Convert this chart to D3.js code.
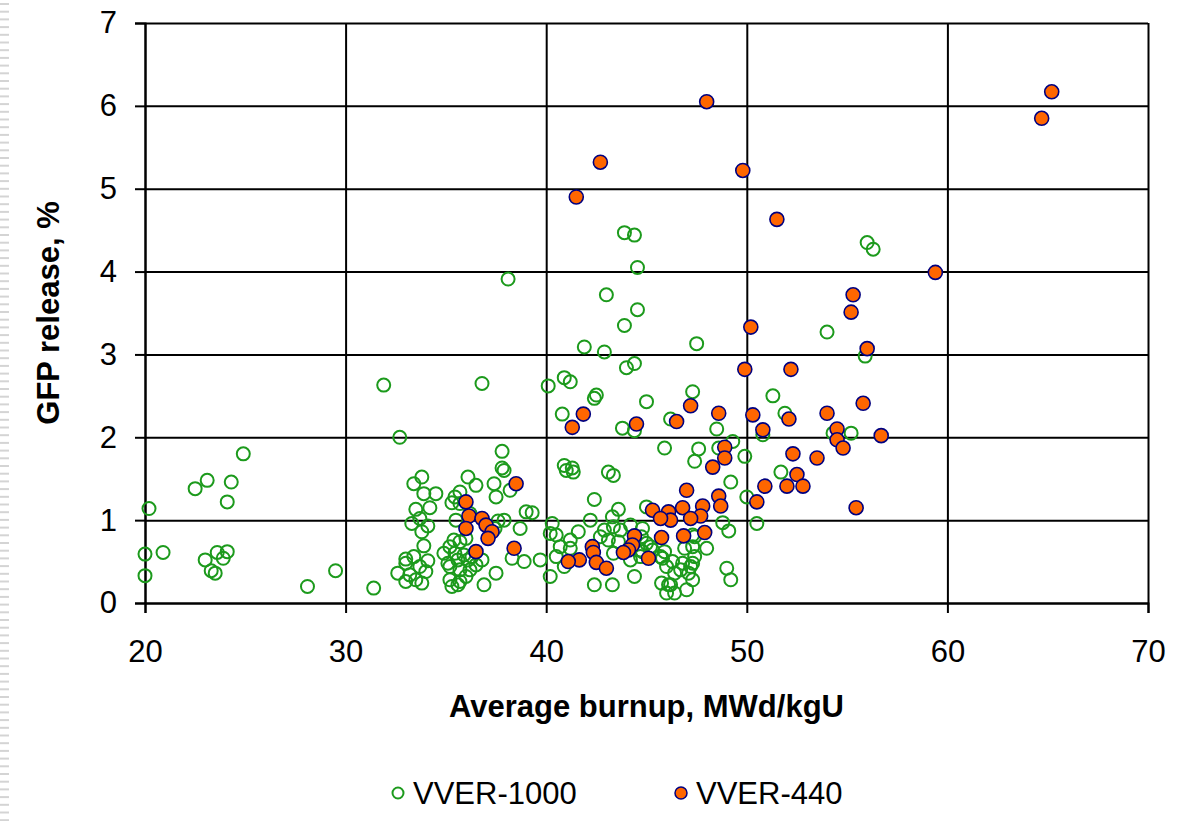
<!DOCTYPE html>
<html>
<head>
<meta charset="utf-8">
<script src="https://cdn.jsdelivr.net/npm/d3@7"></script>
<style>
  body { margin: 0; background: #fff; }
  svg { display: block; }
  text { font-family: "Liberation Sans", Arial, sans-serif; fill: #000; }
</style>
</head>
<body>
<div id="chart"></div>
<script>

// tick values
var xTicks = [20, 30, 40, 50, 60, 70];
var yTicks = [0, 1, 2, 3, 4, 5, 6, 7];

var seriesNames = ["VVER-1000", "VVER-440"];

// VVER-1000 (open green circles): burnup, release
var vver1000X = [
  20.2, 20.0, 20.9, 20.0, 22.5, 23.1, 24.3, 24.1, 24.9, 23.0, 23.6, 24.1, 23.9, 23.3, 23.5,
  28.1, 29.5, 31.4, 31.9, 32.7,
  33.8, 33.4, 33.9, 34.5, 33.5, 34.2, 33.3, 34.1, 33.8, 33.7, 33.9, 33.4, 33.0, 34.1, 33.7,
  32.6, 33.2, 34.0, 33.5, 33.0, 33.8, 33.0,
  36.1, 36.5, 35.45, 35.3, 35.7, 35.5, 36.2, 35.7, 35.4, 35.7, 36.0, 35.2, 34.9, 35.45, 35.9,
  36.3, 36.8, 35.2, 35.7, 36.2, 36.5, 35.2, 35.7, 36.0, 35.3, 35.6, 36.9, 37.5, 35.1, 35.6, 36.1,
  37.4, 37.5, 38.2, 37.9, 37.9, 37.45, 37.6, 38.7, 39.0, 39.3, 37.8, 37.8, 38.3, 38.9, 36.8, 38.1, 39.7,
  40.3, 40.2, 40.5, 42.2, 41.6, 41.2, 40.7, 40.5, 40.9, 40.2, 42.9, 43.7, 44.2, 42.7, 43.1, 43.6,
  44.8, 44.75, 43.35, 44.2, 44.7, 44.4, 42.4, 43.3, 45.3, 45.9, 45.8, 46.3, 46.0, 45.75, 46.2,
  46.0, 46.4, 46.8, 47.2, 47.3, 46.7, 47.1, 47.0, 47.3, 47.3, 45.0, 42.4, 43.6, 43.3, 41.0, 41.35,
  43.1, 43.35, 40.9, 41.3, 43.35, 45.0, 44.7, 45.2, 44.8, 45.7, 41.2,
  43.9, 44.4, 44.55, 43.0, 44.55, 43.9, 47.5, 41.9, 42.9, 44.0, 44.4, 40.1, 40.9, 41.2, 42.5, 42.4,
  45.0, 40.8, 43.8, 44.4, 46.2, 47.3, 45.9, 47.6, 47.4, 48.5, 49.3, 49.9, 48.6, 49.2, 50.0, 50.5,
  48.8, 49.1, 47.4, 48.0, 46.9, 47.4, 49.0, 49.2, 46.4, 46.1, 47.3,
  51.3, 51.9, 50.8, 54.3, 55.2, 51.7, 54.0, 55.9, 56.0, 56.3
];
var vver1000Y = [
  1.14, 0.59, 0.61, 0.33, 1.38, 1.48, 1.46, 1.22, 1.80, 0.52, 0.61, 0.62, 0.54, 0.39, 0.36,
  0.20, 0.39, 0.18, 2.63, 2.00,
  1.52, 1.44, 1.32, 1.32, 1.13, 1.15, 0.96, 0.93, 0.86, 1.02, 0.69, 0.56, 0.53, 0.51, 0.44,
  0.36, 0.34, 0.38, 0.28, 0.26, 0.24, 0.48,
  1.52, 1.42, 1.28, 1.21, 1.20, 1.00, 1.08, 1.34, 0.76, 0.74, 0.78, 0.68, 0.60, 0.60, 0.58,
  0.56, 0.52, 0.44, 0.40, 0.40, 0.46, 0.28, 0.26, 0.32, 0.20, 0.22, 0.22, 0.36, 0.48, 0.52, 0.52,
  1.44, 1.28, 1.36, 1.60, 1.00, 0.90, 0.99, 0.90, 1.10, 1.09, 1.83, 1.63, 0.54, 0.50, 2.65, 3.91, 0.52,
  0.96, 0.84, 0.82, 1.00, 0.86, 0.76, 0.68, 0.56, 0.44, 0.32, 0.88, 0.88, 0.94, 0.80, 0.76, 0.74,
  0.90, 0.80, 0.60, 0.52, 0.56, 0.32, 0.22, 0.22, 0.64, 0.62, 0.54, 0.50, 0.44, 0.24, 0.22,
  0.12, 0.12, 0.48, 0.44, 0.48, 0.40, 0.36, 0.16, 0.28, 0.68, 1.16, 1.25, 1.13, 1.04, 1.60, 1.58,
  1.58, 1.54, 1.66, 1.63, 0.92, 0.72, 0.64, 0.68, 0.62, 0.56, 0.66,
  4.47, 4.44, 4.05, 3.72, 3.54, 3.35, 3.13, 3.09, 3.03, 2.84, 2.89, 2.62, 2.72, 2.67, 2.51, 2.47,
  2.43, 2.28, 2.11, 2.08, 2.22, 2.55, 1.87, 1.86, 1.71, 2.10, 1.95, 1.77, 1.87, 1.46, 1.28, 0.96,
  0.97, 0.87, 0.80, 0.66, 0.66, 0.56, 0.42, 0.28, 0.36, 0.22, 0.82,
  2.50, 2.29, 2.03, 2.05, 2.05, 1.58, 3.27, 2.98, 4.35, 4.27
];

// VVER-440 (filled orange circles)
var vver440X = [
  36.0, 36.15, 36.0, 36.8, 37.0, 37.3, 37.1, 36.5, 38.5, 38.4,
  41.5, 42.7, 48.0, 49.8, 51.5, 64.7, 65.2, 59.4, 55.3, 55.2,
  50.2, 56.0, 49.9, 52.2, 55.8, 50.3, 52.1, 54.0, 54.5, 54.5,
  54.8, 56.7, 52.3, 53.5, 52.5, 50.9, 52.0, 52.8, 50.5, 55.45,
  50.8, 47.2, 48.6, 46.5, 41.85, 41.3, 44.5, 48.9, 48.9, 48.3,
  47.0, 48.6, 48.7, 47.8, 47.7, 47.9, 46.8, 47.2, 46.1, 46.2,
  45.3, 45.7, 45.75, 46.85, 44.4, 44.3, 44.1, 43.85, 45.1, 42.3,
  42.35, 42.5, 43.0, 41.65, 41.1
];
var vver440Y = [
  1.22, 1.05, 0.90, 1.02, 0.94, 0.86, 0.78, 0.62, 1.44, 0.66,
  4.90, 5.32, 6.05, 5.22, 4.63, 5.85, 6.17, 3.99, 3.72, 3.51,
  3.33, 3.07, 2.82, 2.82, 2.41, 2.27, 2.22, 2.29, 2.10, 1.97,
  1.87, 2.02, 1.80, 1.75, 1.55, 1.41, 1.41, 1.41, 1.22, 1.15,
  2.09, 2.38, 2.29, 2.19, 2.28, 2.12, 2.16, 1.88, 1.75, 1.64,
  1.36, 1.29, 1.17, 1.17, 1.05, 0.85, 1.15, 1.02, 1.10, 1.00,
  1.12, 1.02, 0.79, 0.81, 0.81, 0.70, 0.64, 0.61, 0.54, 0.68,
  0.61, 0.49, 0.42, 0.52, 0.50
];

var W = 1186, H = 821;
var plot = {left: 145, right: 1148, top: 23, bottom: 603};

var green = "#1c9a1c", orange = "#ff6600", navy = "#000080";

var svg = d3.select("#chart").append("svg")
    .attr("width", W)
    .attr("height", H);

// faint dashed strip along the left edge of the page
svg.append("g").selectAll("line")
    .data(d3.range(4, H, 7.7))
    .enter().append("line")
    .attr("x1", 0).attr("x2", 9)
    .attr("y1", function(d) { return d; })
    .attr("y2", function(d) { return d; })
    .attr("stroke", "#d4d4d4")
    .attr("stroke-width", 2);

var x = d3.scaleLinear().domain([20, 70]).range([plot.left, plot.right]);
var y = d3.scaleLinear().domain([0, 7]).range([plot.bottom, plot.top]);

// gridlines
svg.append("g")
    .attr("transform", "translate(0," + plot.bottom + ")")
    .call(d3.axisBottom(x).tickValues(xTicks).tickSize(-(plot.bottom - plot.top)).tickFormat(""))
    .call(function(g) { g.select(".domain").remove(); })
    .selectAll("line").attr("stroke", "#000").attr("stroke-width", 2);

svg.append("g")
    .attr("transform", "translate(" + plot.left + ",0)")
    .call(d3.axisLeft(y).tickValues(yTicks).tickSize(-(plot.right - plot.left)).tickFormat(""))
    .call(function(g) { g.select(".domain").remove(); })
    .selectAll("line").attr("stroke", "#000").attr("stroke-width", 2);

// axes with outside ticks
var xAxis = svg.append("g")
    .attr("transform", "translate(0," + plot.bottom + ")")
    .call(d3.axisBottom(x).tickValues(xTicks).tickSize(10).tickPadding(27).tickFormat(d3.format("d")));
xAxis.select(".domain").attr("stroke", "#000").attr("stroke-width", 2);
xAxis.selectAll("line").attr("stroke", "#000").attr("stroke-width", 2);
xAxis.selectAll("text")
    .style("font-size", "31px")
    .style("font-family", "'Liberation Sans', Arial, sans-serif")
    .attr("fill", "#000");

var yAxis = svg.append("g")
    .attr("transform", "translate(" + plot.left + ",0)")
    .call(d3.axisLeft(y).tickValues(yTicks).tickSize(10).tickPadding(18).tickFormat(d3.format("d")));
yAxis.select(".domain").attr("stroke", "#000").attr("stroke-width", 2);
yAxis.selectAll("line").attr("stroke", "#000").attr("stroke-width", 2);
yAxis.selectAll("text")
    .style("font-size", "31px")
    .style("font-family", "'Liberation Sans', Arial, sans-serif")
    .attr("fill", "#000");

// data
var dataGreen = vver1000X.map(function(v, i) { return {x: v, y: vver1000Y[i]}; });
var dataOrange = vver440X.map(function(v, i) { return {x: v, y: vver440Y[i]}; });

svg.append("g").selectAll("circle")
    .data(dataGreen)
    .enter().append("circle")
    .attr("cx", function(d) { return x(d.x); })
    .attr("cy", function(d) { return y(d.y); })
    .attr("r", 6.5)
    .attr("fill", "none")
    .attr("stroke", green)
    .attr("stroke-width", 2);

svg.append("g").selectAll("circle")
    .data(dataOrange)
    .enter().append("circle")
    .attr("cx", function(d) { return x(d.x); })
    .attr("cy", function(d) { return y(d.y); })
    .attr("r", 7)
    .attr("fill", orange)
    .attr("stroke", navy)
    .attr("stroke-width", 1.6);

// axis titles
svg.append("text")
    .attr("x", (plot.left + plot.right) / 2)
    .attr("y", 706)
    .attr("text-anchor", "middle")
    .attr("dominant-baseline", "central")
    .style("font-size", "31px")
    .style("font-weight", "bold")
    .text("Average burnup, MWd/kgU");

svg.append("text")
    .attr("transform", "translate(48," + (plot.top + plot.bottom) / 2 + ") rotate(-90)")
    .attr("text-anchor", "middle")
    .attr("dominant-baseline", "central")
    .style("font-size", "31px")
    .style("font-weight", "bold")
    .text("GFP release, %");

// legend
var legend = svg.append("g");
var legendX = [398, 681];
seriesNames.forEach(function(name, i) {
    var g = legend.append("g").attr("transform", "translate(" + legendX[i] + ",793)");
    if (i === 0) {
        g.append("circle").attr("r", 5.5).attr("fill", "none").attr("stroke", green).attr("stroke-width", 2);
    } else {
        g.append("circle").attr("r", 6).attr("fill", orange).attr("stroke", navy).attr("stroke-width", 1.5);
    }
    g.append("text")
        .attr("x", 15)
        .attr("dominant-baseline", "central")
        .style("font-size", "31px")
        .text(name);
});

</script>
</body>
</html>
